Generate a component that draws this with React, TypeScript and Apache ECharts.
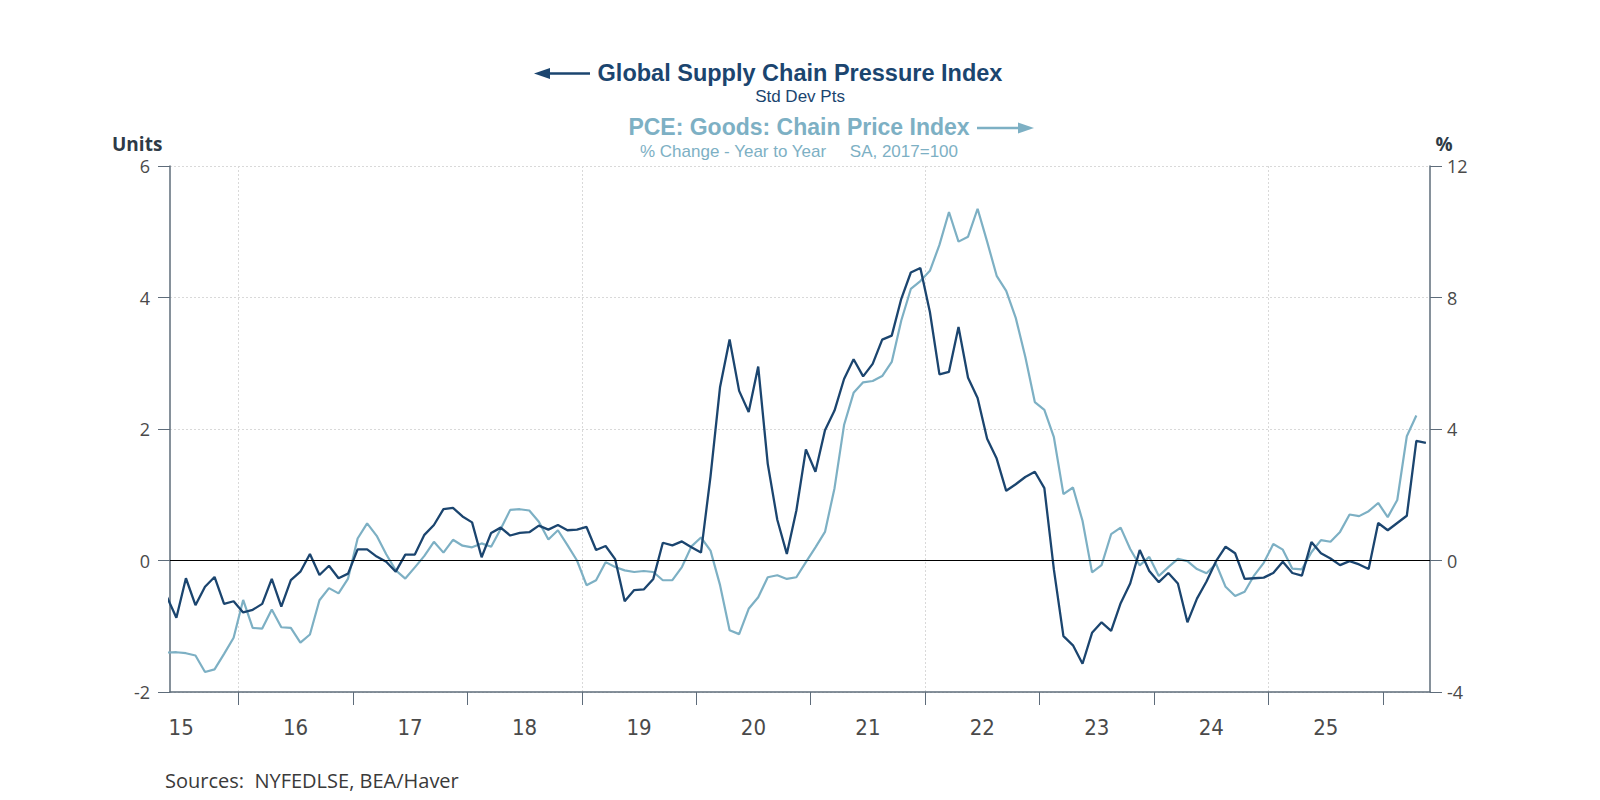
import React, { useEffect, useRef } from "react";
import * as echarts from "echarts";

// Monthly observations. The first value is May 2015 (month index 4, counted from Jan 2015).
const BASE_YEAR = 2015;
const FIRST_MONTH_INDEX = 4;

// Global Supply Chain Pressure Index, standard deviations (left axis)
const gscpi: number[] = [
  -0.55, -0.87, -0.27, -0.68, -0.4, -0.25, -0.66, -0.62,
  -0.79, -0.75, -0.66, -0.28, -0.7, -0.3, -0.17, 0.1, -0.22, -0.08, -0.27, -0.2,
  0.17, 0.17, 0.06, -0.02, -0.17, 0.09, 0.09, 0.39, 0.54, 0.78, 0.8, 0.67,
  0.58, 0.05, 0.42, 0.5, 0.38, 0.42, 0.43, 0.53, 0.47, 0.54, 0.46, 0.47,
  0.51, 0.16, 0.22, 0.02, -0.62, -0.45, -0.44, -0.28, 0.27, 0.23, 0.29, 0.2,
  0.12, 1.28, 2.64, 3.36, 2.58, 2.26, 2.95, 1.47, 0.62, 0.1, 0.76, 1.69,
  1.35, 1.98, 2.28, 2.76, 3.06, 2.8, 2.99, 3.36, 3.42, 3.98, 4.38, 4.45,
  3.78, 2.83, 2.87, 3.55, 2.78, 2.47, 1.85, 1.55, 1.06, 1.16, 1.27, 1.35,
  1.1, -0.14, -1.15, -1.29, -1.57, -1.1, -0.94, -1.07, -0.65, -0.35, 0.16, -0.16,
  -0.33, -0.19, -0.35, -0.94, -0.58, -0.32, -0.01, 0.21, 0.11, -0.28, -0.27, -0.26,
  -0.19, -0.02, -0.19, -0.23, 0.28, 0.11, 0.03, -0.07, -0.01, -0.06, -0.13, 0.57,
  0.46, 0.57, 0.68, 1.82, 1.79,
];

// PCE: Goods: Chain Price Index, % change year to year (right axis)
const pceGoodsYoY: number[] = [
  -2.8, -2.79, -2.82, -2.89, -3.39, -3.31, -2.84, -2.35,
  -1.2, -2.05, -2.07, -1.49, -2.03, -2.05, -2.5, -2.25, -1.21, -0.84, -1.0, -0.55,
  0.67, 1.13, 0.75, 0.19, -0.3, -0.55, -0.21, 0.14, 0.57, 0.24, 0.63, 0.45,
  0.4, 0.52, 0.42, 0.96, 1.54, 1.56, 1.52, 1.18, 0.64, 0.92, 0.47, 0.0,
  -0.75, -0.6, -0.05, -0.2, -0.3, -0.35, -0.32, -0.35, -0.6, -0.6, -0.2, 0.43,
  0.7, 0.3, -0.75, -2.12, -2.24, -1.47, -1.12, -0.51, -0.45, -0.56, -0.51, -0.05,
  0.4, 0.87, 2.2, 4.12, 5.1, 5.42, 5.46, 5.61, 6.04, 7.3, 8.26, 8.5,
  8.81, 9.6, 10.6, 9.7, 9.85, 10.7, 9.7, 8.66, 8.2, 7.38, 6.2, 4.82,
  4.58, 3.75, 2.02, 2.22, 1.21, -0.36, -0.14, 0.8, 1.0, 0.35, -0.15, 0.11,
  -0.47, -0.2, 0.05, -0.02, -0.26, -0.39, -0.1, -0.8, -1.08, -0.95, -0.45, -0.07,
  0.5, 0.33, -0.25, -0.27, 0.25, 0.62, 0.57, 0.87, 1.4, 1.35, 1.5, 1.75,
  1.32, 1.84, 3.78, 4.41,
];

// Year boundaries get a tick; labels sit in the middle of each year
const yearTicks = [2016, 2017, 2018, 2019, 2020, 2021, 2022, 2023, 2024, 2025, 2026];
const yearLabelAt = [2015.5, 2016.5, 2017.5, 2018.5, 2019.5, 2020.5, 2021.5, 2022.5, 2023.5, 2024.5, 2025.5];
const verticalGridYears = [2016, 2019, 2022, 2025];

const X_MIN = 2015.4025;
const X_MAX = 2026.411;

const DARK = "#1b456f";
const LIGHT = "#7db0c4";
const AXIS = "#5e6c7a";
const GRID = "#d9d9d9";
const FONT = "'Open Sans', 'Noto Sans', sans-serif";
const TITLE_FONT = "'Liberation Sans', Arial, sans-serif";
const NARROW = "'Liberation Sans Narrow', 'DejaVu Sans Condensed', 'Open Sans', sans-serif";

const monthPos = (i: number) => BASE_YEAR + (FIRST_MONTH_INDEX + i + 0.5) / 12;

export default function App() {
  const ref = useRef<HTMLDivElement>(null);

  useEffect(() => {
    if (!ref.current) return;
    const chart = echarts.init(ref.current, undefined, { renderer: "svg" });

    chart.setOption({
      animation: false,
      backgroundColor: "#ffffff",
      grid: { left: 170, right: 170, top: 166, bottom: 108, containLabel: false },
      xAxis: [
        {
          type: "value",
          min: X_MIN,
          max: X_MAX,
          position: "bottom",
          axisLine: { show: true, onZero: false, lineStyle: { color: AXIS, width: 1.5 } },
          axisTick: { show: true, customValues: yearTicks, length: 13, lineStyle: { color: AXIS, width: 1 } },
          axisLabel: {
            show: true,
            customValues: yearLabelAt,
            formatter: (v: number) => String(Math.floor(v)).slice(2),
            margin: 24,
            fontFamily: NARROW,
            fontSize: 22,
            color: "#4a4a4a",
          },
          splitLine: { show: false },
        },
        {
          type: "value",
          min: X_MIN,
          max: X_MAX,
          position: "bottom",
          axisLine: { show: false },
          axisTick: { show: false, customValues: verticalGridYears },
          axisLabel: { show: false },
          splitLine: { show: true, lineStyle: { color: GRID, type: [2, 2], width: 1 } },
        },
      ],
      yAxis: [
        {
          type: "value",
          min: -2,
          max: 6,
          interval: 2,
          position: "left",
          axisLine: { show: true, onZero: false, lineStyle: { color: AXIS, width: 1.5 } },
          axisTick: { show: true, length: 12, lineStyle: { color: AXIS } },
          axisLabel: { margin: 20, fontFamily: FONT, fontSize: 18, color: "#4a4a4a" },
          splitLine: { show: true, lineStyle: { color: GRID, type: [2, 2], width: 1 } },
        },
        {
          type: "value",
          min: -4,
          max: 12,
          interval: 4,
          position: "right",
          axisLine: { show: true, onZero: false, lineStyle: { color: AXIS, width: 1.5 } },
          axisTick: { show: true, length: 12, lineStyle: { color: AXIS } },
          axisLabel: { margin: 17, fontFamily: FONT, fontSize: 18, color: "#4a4a4a" },
          splitLine: { show: false },
        },
      ],
      series: [
        {
          name: "PCE: Goods: Chain Price Index",
          type: "line",
          xAxisIndex: 0,
          yAxisIndex: 1,
          data: pceGoodsYoY.map((v, i) => [monthPos(i), v]),
          showSymbol: false,
          clip: true,
          lineStyle: { color: LIGHT, width: 2.2 },
          itemStyle: { color: LIGHT },
        },
        {
          name: "Global Supply Chain Pressure Index",
          type: "line",
          xAxisIndex: 0,
          yAxisIndex: 0,
          data: gscpi.map((v, i) => [monthPos(i), v]),
          showSymbol: false,
          clip: true,
          lineStyle: { color: DARK, width: 2.3 },
          itemStyle: { color: DARK },
          markLine: {
            silent: true,
            symbol: "none",
            label: { show: false },
            lineStyle: { color: "#000000", width: 1.2, type: "solid" },
            data: [{ yAxis: 0 }],
          },
        },
      ],
      graphic: [
        // left-pointing arrow for the left-axis series
        { type: "line", shape: { x1: 546, y1: 73.5, x2: 590, y2: 73.5 }, style: { stroke: DARK, lineWidth: 2.5 } },
        { type: "polygon", shape: { points: [[534, 73.5], [550, 68], [550, 79]] }, style: { fill: DARK } },
        {
          type: "text",
          x: 800,
          y: 72.5,
          style: {
            text: "Global Supply Chain Pressure Index",
            fill: DARK,
            font: `bold 23.5px ${TITLE_FONT}`,
            textAlign: "center",
            textVerticalAlign: "middle",
          },
        },
        {
          type: "text",
          x: 800,
          y: 96.5,
          style: { text: "Std Dev Pts", fill: DARK, font: `17px ${TITLE_FONT}`, textAlign: "center", textVerticalAlign: "middle" },
        },
        {
          type: "text",
          x: 799,
          y: 127,
          style: {
            text: "PCE: Goods: Chain Price Index",
            fill: LIGHT,
            font: `bold 23px ${TITLE_FONT}`,
            textAlign: "center",
            textVerticalAlign: "middle",
          },
        },
        // right-pointing arrow for the right-axis series
        { type: "line", shape: { x1: 977, y1: 128, x2: 1022, y2: 128 }, style: { stroke: LIGHT, lineWidth: 2.5 } },
        { type: "polygon", shape: { points: [[1034, 128], [1018, 122.5], [1018, 133.5]] }, style: { fill: LIGHT } },
        {
          type: "text",
          x: 799,
          y: 151,
          style: {
            text: "% Change - Year to Year     SA, 2017=100",
            fill: LIGHT,
            font: `17px ${TITLE_FONT}`,
            textAlign: "center",
            textVerticalAlign: "middle",
          },
        },
        {
          type: "text",
          x: 112,
          y: 144,
          style: {
            text: "Units",
            fill: "#2e3a46",
            font: `bold 19px ${FONT}`,
            lineHeight: 19,
            textAlign: "left",
            textVerticalAlign: "middle",
          },
        },
        {
          type: "text",
          x: 1444,
          y: 144,
          style: {
            text: "%",
            fill: "#2e3a46",
            font: `bold 19px ${FONT}`,
            lineHeight: 19,
            textAlign: "center",
            textVerticalAlign: "middle",
          },
        },
        {
          type: "text",
          x: 165,
          y: 780,
          style: { text: "Sources:  NYFEDLSE, BEA/Haver", fill: "#3a3a3a", font: `20px ${FONT}`, textAlign: "left", textVerticalAlign: "middle" },
        },
      ],
    });

    return () => chart.dispose();
  }, []);

  return (
    <div
      ref={ref}
      style={{ position: "fixed", left: 0, top: 0, width: 1600, height: 800, background: "#fff" }}
    />
  );
}
